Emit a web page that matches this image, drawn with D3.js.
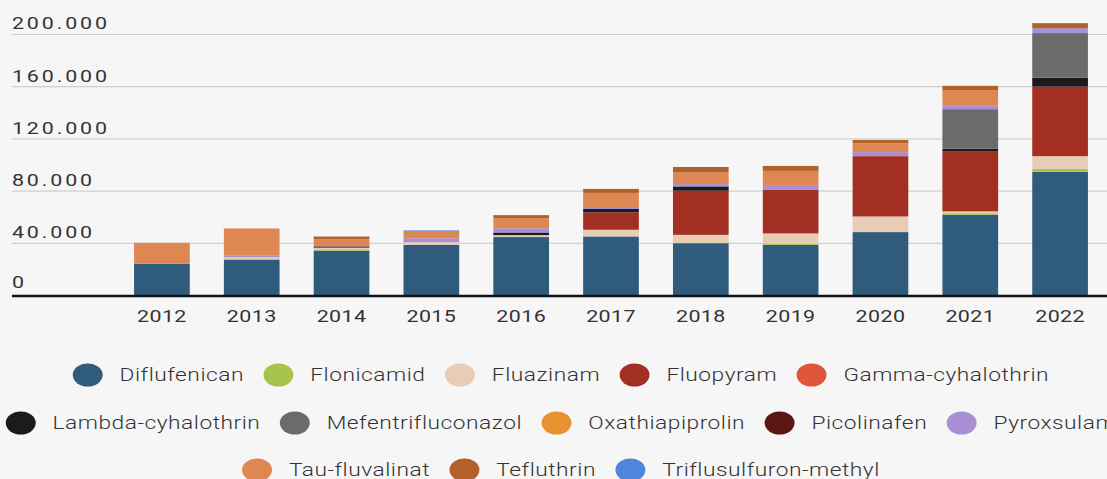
<!DOCTYPE html>
<html>
<head>
<meta charset="utf-8">
<script src="https://cdn.jsdelivr.net/npm/d3@7"></script>
<style>
    body { margin: 0; background: #f6f6f6; }
    svg { display: block; }
    text { font-family: Roboto, sans-serif; fill: #333; }
</style>
</head>
<body>
<svg id="drawing_region"></svg>
<script>
// data (tonnes per year)
var years = ["2012","2013","2014","2015","2016","2017","2018","2019","2020","2021","2022"];
var yticks = [0, 40000, 80000, 120000, 160000, 200000];

var diflufenican   = [24000, 27000, 34000, 38500, 44400, 44900, 39700, 38500, 48200, 61500, 94400];
var flonicamid     = [0, 1000, 1000, 0, 0, 0, 500, 800, 500, 1200, 2300];
var fluazinam      = [0, 1000, 1300, 2000, 1500, 5100, 5900, 7900, 11500, 1400, 9700];
var fluopyram      = [0, 0, 0, 0, 0, 13300, 33800, 33300, 46200, 46200, 53300];
var gamma          = [0, 0, 0, 0, 0, 0, 0, 0, 0, 0, 0];
var lambda         = [0, 0, 0, 0, 2000, 2600, 3300, 0, 0, 1800, 6900];
var mefentri       = [0, 0, 0, 0, 0, 0, 0, 0, 0, 30300, 34100];
var oxathiapiprolin = [0, 0, 0, 0, 0, 0, 0, 0, 0, 0, 0];
var picolinafen    = [0, 0, 1000, 0, 0, 0, 0, 0, 0, 0, 0];
var pyroxsulam     = [0, 1500, 1000, 3000, 3300, 800, 1800, 3100, 3100, 2600, 3800];
var tau            = [16000, 20500, 4500, 5000, 7700, 11500, 9000, 11500, 6700, 12000, 0];
var tefluthrin     = [0, 0, 2000, 0, 2300, 3100, 4100, 3800, 2600, 3300, 3800];
var triflusulfuron = [0, 0, 0, 1000, 0, 0, 0, 0, 0, 0, 0];

var series = [
    {name: "Diflufenican", values: diflufenican, color: "#2f5b7c"},
    {name: "Flonicamid", values: flonicamid, color: "#a8c34a"},
    {name: "Fluazinam", values: fluazinam, color: "#e9ccb6"},
    {name: "Fluopyram", values: fluopyram, color: "#a32f22"},
    {name: "Gamma-cyhalothrin", values: gamma, color: "#e1553a"},
    {name: "Lambda-cyhalothrin", values: lambda, color: "#1b1b1b"},
    {name: "Mefentrifluconazol", values: mefentri, color: "#6b6b6b"},
    {name: "Oxathiapiprolin", values: oxathiapiprolin, color: "#e8922f"},
    {name: "Picolinafen", values: picolinafen, color: "#5b1712"},
    {name: "Pyroxsulam", values: pyroxsulam, color: "#a88fd6"},
    {name: "Tau-fluvalinat", values: tau, color: "#de8753"},
    {name: "Tefluthrin", values: tefluthrin, color: "#b3612a"},
    {name: "Triflusulfuron-methyl", values: triflusulfuron, color: "#4f86dc"}
];
var legend_rows = [5, 5, 3];

// the picture is stretched sideways, so draw in a narrower box and stretch it
var stretch = 1.3;
var config = {
    width: 1107 / stretch,
    height: 479,
    top: 34,
    bottom: 295,
    gridLeft: 9.2
};

var svg = d3.select('#drawing_region')
    .attr('width', 1107)
    .attr('height', 479)
    .attr('viewBox', `0 0 ${config.width} ${config.height}`)
    .attr('preserveAspectRatio', 'none');

var table = years.map((y, i) => {
    let row = {year: y};
    series.forEach(s => { row[s.name] = s.values[i]; });
    return row;
});

var stack = d3.stack().keys(series.map(s => s.name))(table);

var xscale = d3.scaleBand()
    .domain(years)
    .range([90, 850])
    .paddingInner(0.38)
    .paddingOuter(0.19);

var yscale = d3.scaleLinear()
    .domain([0, 200000])
    .range([config.bottom, config.top]);

// gridlines + labels
var grid = svg.append('g');
grid.selectAll('line')
    .data(yticks.filter(d => d > 0))
    .join('line')
    .attr('x1', config.gridLeft)
    .attr('x2', config.width)
    .attr('y1', d => yscale(d) + 0.5)
    .attr('y2', d => yscale(d) + 0.5)
    .attr('stroke', '#cfcfcf')
    .attr('stroke-width', 1.2);

grid.selectAll('text')
    .data(yticks)
    .join('text')
    .attr('x', config.gridLeft)
    .attr('y', d => yscale(d) - (d == 0 ? 7 : 4.5))
    .attr('font-size', '16.5px')
    .attr('letter-spacing', '2.2px')
    .text(d => d == 0 ? "0" : d3.format(",")(d).replace(/,/g, "."));

// bars
var color = d3.scaleOrdinal().domain(series.map(s => s.name)).range(series.map(s => s.color));

svg.append('g')
    .selectAll('g')
    .data(stack)
    .join('g')
    .attr('fill', d => color(d.key))
    .selectAll('rect')
    .data(d => d)
    .join('rect')
    .attr('x', d => xscale(d.data.year))
    .attr('y', d => yscale(d[1]))
    .attr('width', xscale.bandwidth())
    .attr('height', d => yscale(d[0]) - yscale(d[1]));

// baseline
svg.append('line')
    .attr('x1', config.gridLeft)
    .attr('x2', config.width)
    .attr('y1', config.bottom + 1)
    .attr('y2', config.bottom + 1)
    .attr('stroke', '#111')
    .attr('stroke-width', 2.5);

// x axis labels
var xaxis = d3.axisBottom(xscale).tickSize(0).tickPadding(0);
var xaxis_group = svg.append('g')
    .attr('transform', `translate(0, 322)`)
    .call(xaxis);
xaxis_group.select('.domain').remove();
xaxis_group.selectAll('text')
    .attr('dy', 0)
    .attr('fill', '#333')
    .style('font-family', 'Roboto, sans-serif')
    .style('font-size', '16.5px')
    .attr('letter-spacing', '0.3px');

// legend
var r = 11.5;
var legend_y = [375, 423, 470];
var centre = 431.5;
var start = 0;
legend_rows.forEach((count, ri) => {
    let items = series.slice(start, start + count);
    start += count;
    let row = svg.append('g');
    let cursor = 0;
    items.forEach(s => {
        let g = row.append('g');
        g.append('circle')
            .attr('cx', cursor + r)
            .attr('cy', legend_y[ri])
            .attr('r', r)
            .attr('fill', s.color);
        let t = g.append('text')
            .attr('x', cursor + 2 * r + 13)
            .attr('y', legend_y[ri])
            .attr('dy', '0.35em')
            .attr('font-size', '17.5px')
            .attr('font-weight', 300)
            .attr('letter-spacing', '0.4px')
            .attr('fill', '#2a2a2a')
            .text(s.name);
        cursor = cursor + 2 * r + 13 + t.node().getComputedTextLength() + 15;
    });
    let row_width = cursor - 15;
    row.attr('transform', `translate(${centre - row_width / 2}, 0)`);
});
</script>
</body>
</html>
